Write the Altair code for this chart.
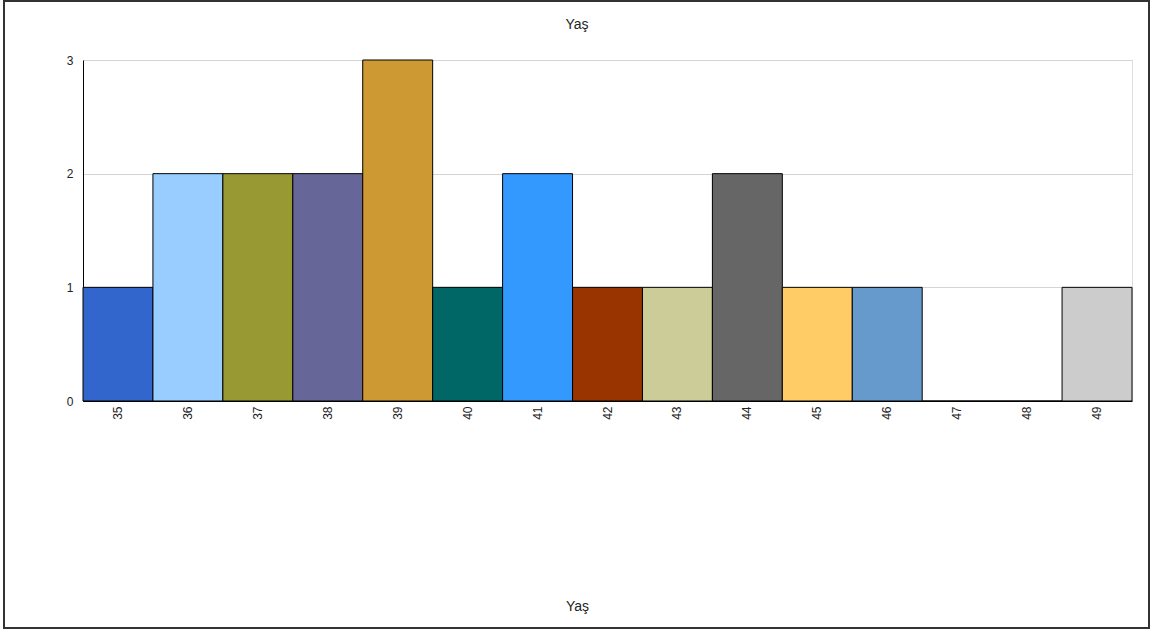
import altair as alt
import pandas as pd

ages = ["35", "36", "37", "38", "39", "40", "41", "42", "43", "44", "45", "46", "47", "48", "49"]
counts = [1, 2, 2, 2, 3, 1, 2, 1, 1, 2, 1, 1, 0, 0, 1]
colors = ["#3366CC", "#99CCFF", "#999933", "#666699", "#CC9933", "#006666", "#3399FF",
          "#993300", "#CCCC99", "#666666", "#FFCC66", "#6699CC", "#FFFFFF", "#FFFFFF", "#CCCCCC"]
chart_title = "Yaş"

df = pd.DataFrame({"age": ages, "count": counts})
tdf = pd.DataFrame({"t": [chart_title]})

FONT = "Liberation Sans"
W, H = 1049, 341

bars = alt.Chart(df).mark_bar(stroke="black", strokeWidth=1).encode(
    x=alt.X("age:N", sort=ages, title="Yaş",
            scale=alt.Scale(paddingInner=0, paddingOuter=0),
            axis=alt.Axis(labelAngle=270, labelFontSize=12, labelColor="#222",
                          labelFont=FONT, ticks=False, domainColor="black",
                          labelPadding=5, titlePadding=180, titleFontSize=14,
                          titleX=494, titleAnchor="middle",
                          titleFont=FONT, titleFontWeight="normal", titleColor="#222")),
    y=alt.Y("count:Q", title=None,
            scale=alt.Scale(domain=[0, 3]),
            axis=alt.Axis(values=[0, 1, 2, 3], labelFontSize=12, labelColor="#222",
                          labelFont=FONT, ticks=False, domainColor="black",
                          gridColor="#d4d4d4", labelPadding=10)),
    color=alt.Color("age:N", sort=ages, scale=alt.Scale(domain=ages, range=colors), legend=None),
)

frame = alt.Chart(df).mark_rect(fill=None, stroke="#333", strokeWidth=2, clip=False).encode(
    x=alt.value(-79), x2=alt.value(1066), y=alt.value(-59), y2=alt.value(568)
)

title = alt.Chart(tdf).mark_text(fontSize=14, font=FONT, color="#222", baseline="middle",
                                 align="center").encode(
    text="t:N", x=alt.value(494), y=alt.value(-35)
)

chart = alt.layer(frame, bars, title).properties(
    width=W, height=H,
    padding={"left": 83, "top": 60, "right": 1156 - 83 - W, "bottom": 633 - 60 - H},
    autosize=alt.AutoSizeParams(type="none"),
).configure_view(stroke="transparent", strokeWidth=0).configure(background="white")

chart.save("out.html", embed_options={"renderer": "svg", "actions": False})
